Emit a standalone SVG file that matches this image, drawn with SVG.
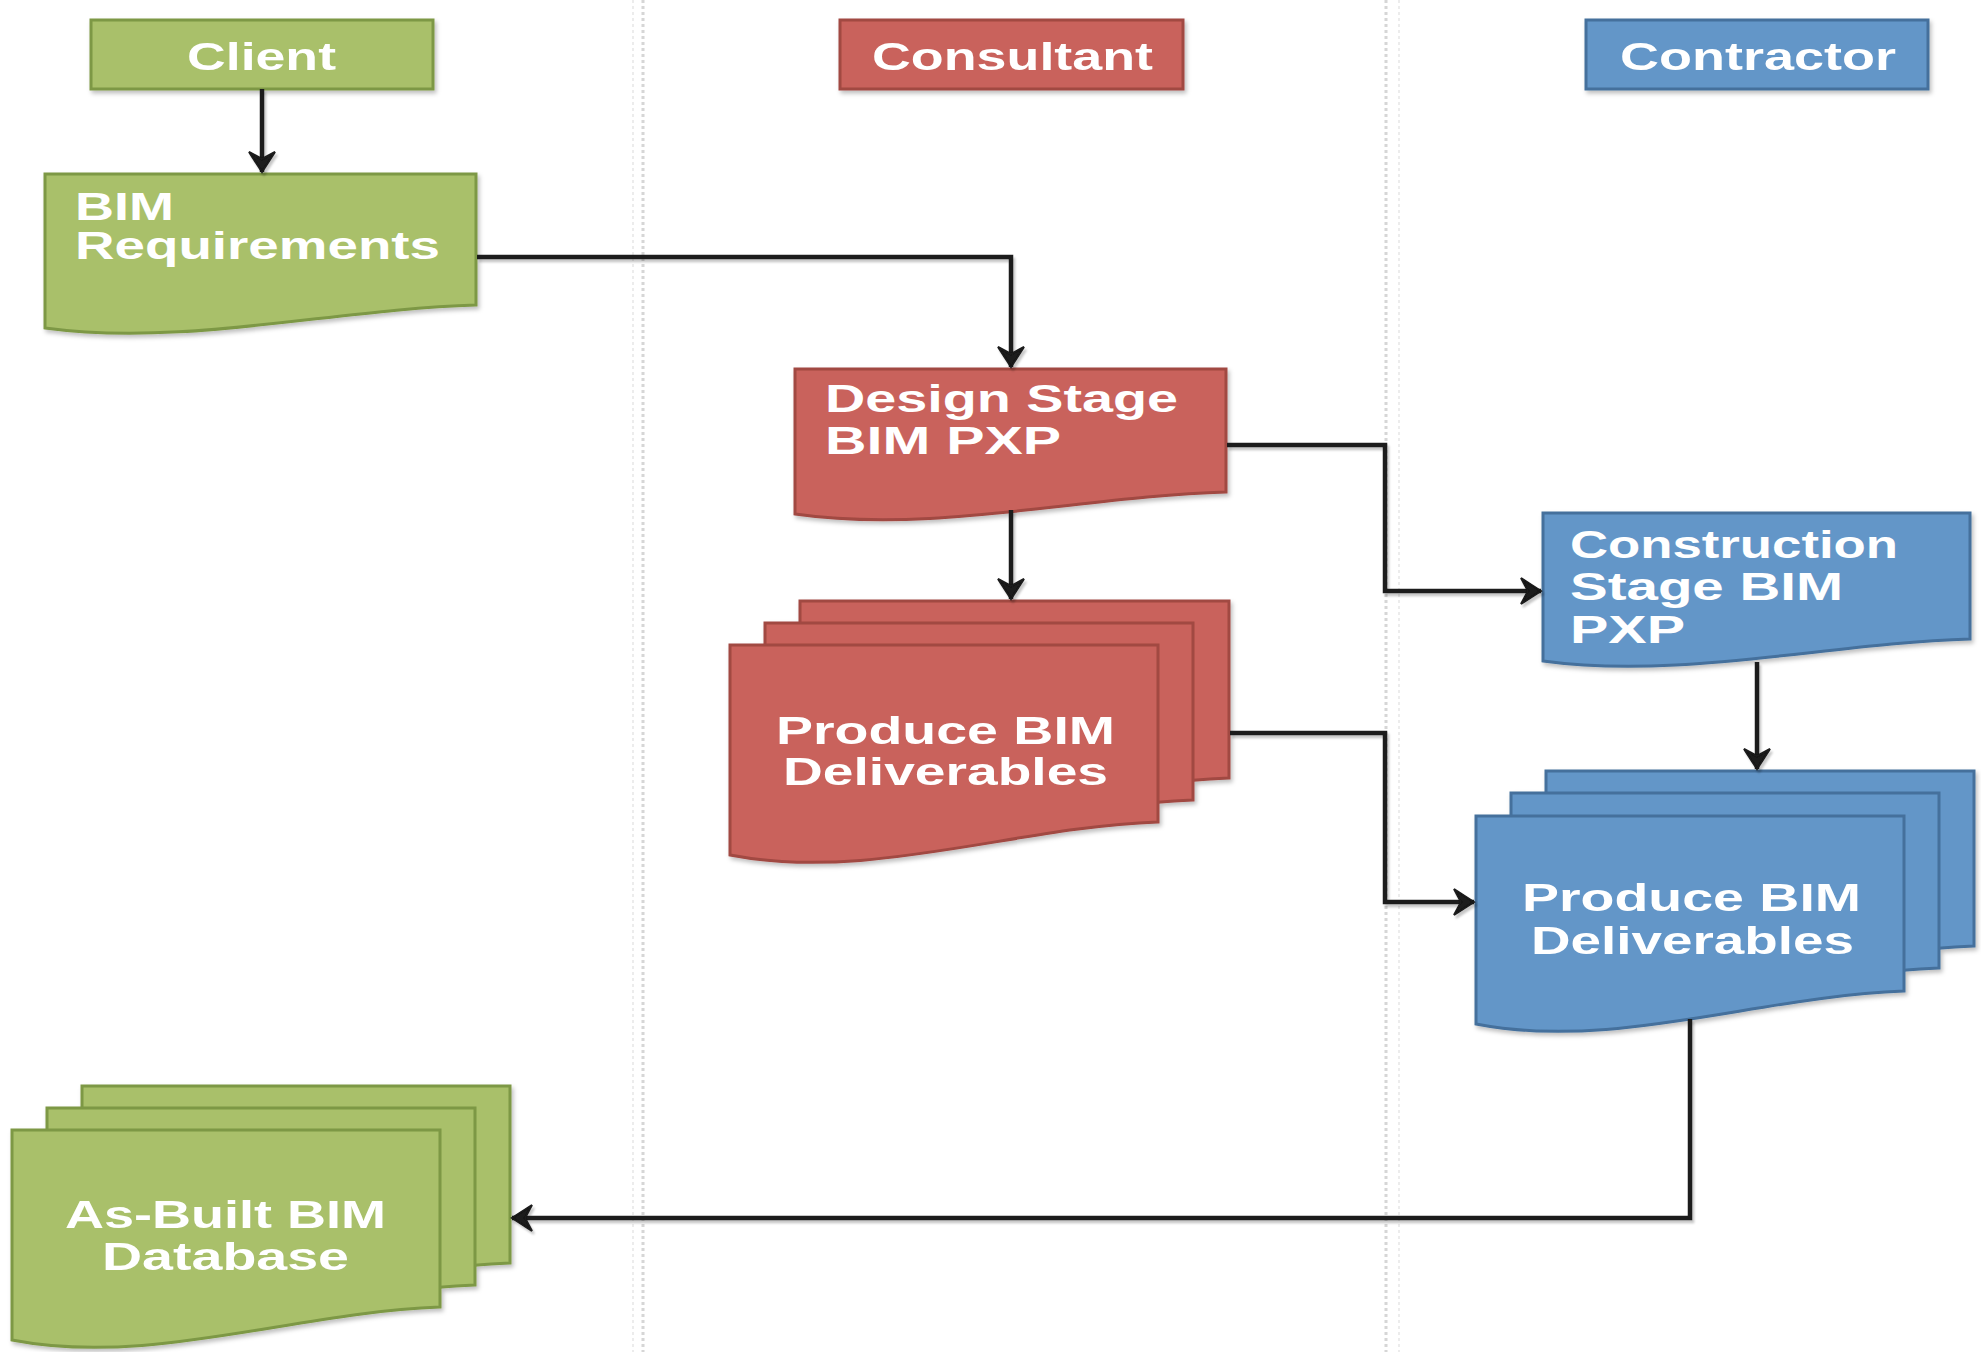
<svg xmlns="http://www.w3.org/2000/svg" width="1981" height="1352" viewBox="0 0 1981 1352">
<defs>
<style>
.g{fill:#a9c06b;stroke:#7d9845;stroke-width:3}
.r{fill:#c9625b;stroke:#a14843;stroke-width:3}
.b{fill:#6396c8;stroke:#44709c;stroke-width:3}
.t{font-family:"Liberation Sans",Arial,sans-serif;font-weight:bold;font-size:38px;fill:#ffffff}
.lane{stroke:#d6d6d6;stroke-width:3;stroke-dasharray:3 3;fill:none}
.lane2{stroke:#ececec;stroke-width:2;stroke-dasharray:3 3;fill:none}
.c{fill:none;stroke:#1a1a1a;stroke-width:4.5;stroke-linejoin:miter}
</style>
<filter id="sh" x="-10%" y="-10%" width="120%" height="130%">
<feDropShadow dx="2" dy="3" stdDeviation="2" flood-color="#000" flood-opacity="0.25"/>
</filter>
<filter id="lsh" x="-20%" y="-20%" width="140%" height="140%">
<feDropShadow dx="2" dy="3" stdDeviation="1.2" flood-color="#000" flood-opacity="0.22"/>
</filter>
<marker id="ah" markerUnits="userSpaceOnUse" viewBox="-22 -16 24 32" markerWidth="24" markerHeight="32" refX="0" refY="0" orient="auto">
<path d="M0,0 L-20,-13 L-13,0 L-20,13 Z" fill="#1a1a1a" stroke="#1a1a1a" stroke-width="2" stroke-linejoin="miter"/>
</marker>
</defs>
<rect width="1981" height="1352" fill="#ffffff"/>
<g id="lanes">
<line class="lane2" x1="633" y1="0" x2="633" y2="1352"/>
<line class="lane" x1="643" y1="0" x2="643" y2="1352"/>
<line class="lane" x1="1386" y1="0" x2="1386" y2="1352"/>
<line class="lane2" x1="1399" y1="0" x2="1399" y2="1352"/>
</g>
<g id="client-header" filter="url(#sh)">
<rect class="g" x="91" y="20" width="342" height="69"/>
<text class="t" x="187" y="70" textLength="149" lengthAdjust="spacingAndGlyphs">Client</text>
</g>
<g id="consultant-header" filter="url(#sh)">
<rect class="r" x="840" y="20" width="343" height="69"/>
<text class="t" x="872" y="70" textLength="281" lengthAdjust="spacingAndGlyphs">Consultant</text>
</g>
<g id="contractor-header" filter="url(#sh)">
<rect class="b" x="1586" y="20" width="342" height="69"/>
<text class="t" x="1620" y="70" textLength="276" lengthAdjust="spacingAndGlyphs">Contractor</text>
</g>
<g id="bim-requirements">
<path class="g" filter="url(#sh)" d="M45,174 H476 V305 C335,309 184,347 45,328 Z"/>
<text class="t" x="75" y="220" textLength="99" lengthAdjust="spacingAndGlyphs">BIM</text>
<text class="t" x="75" y="259" textLength="365" lengthAdjust="spacingAndGlyphs">Requirements</text>
</g>
<g id="design-stage-pxp">
<path class="r" filter="url(#sh)" d="M795,369 H1226 V492 C1085,496 934,534 795,514 Z"/>
<text class="t" x="825" y="412" textLength="353" lengthAdjust="spacingAndGlyphs">Design Stage</text>
<text class="t" x="825" y="454" textLength="236" lengthAdjust="spacingAndGlyphs">BIM PXP</text>
</g>
<g id="consultant-deliverables" filter="url(#sh)">
<path class="r" d="M800,601 H1229 V778 C1085,783 938,838 800,811 Z"/>
<path class="r" d="M765,623 H1193 V800 C1050,805 903,860 765,833 Z"/>
<path class="r" d="M730,645 H1158 V822 C1015,827 868,882 730,855 Z"/>
<text class="t" x="776" y="744" textLength="339" lengthAdjust="spacingAndGlyphs">Produce BIM</text>
<text class="t" x="783" y="785" textLength="325" lengthAdjust="spacingAndGlyphs">Deliverables</text>
</g>
<g id="construction-stage-pxp">
<path class="b" filter="url(#sh)" d="M1543,513 H1970 V639 C1830,643 1680,680 1543,661 Z"/>
<text class="t" x="1570" y="558" textLength="328" lengthAdjust="spacingAndGlyphs">Construction</text>
<text class="t" x="1570" y="600" textLength="273" lengthAdjust="spacingAndGlyphs">Stage BIM</text>
<text class="t" x="1570" y="643" textLength="115" lengthAdjust="spacingAndGlyphs">PXP</text>
</g>
<g id="contractor-deliverables" filter="url(#sh)">
<path class="b" d="M1546,771 H1974 V946 C1830,951 1684,1006 1546,979 Z"/>
<path class="b" d="M1511,793 H1939 V968 C1795,973 1649,1028 1511,1001 Z"/>
<path class="b" d="M1476,816 H1904 V991 C1760,996 1614,1051 1476,1024 Z"/>
<text class="t" x="1522" y="911" textLength="339" lengthAdjust="spacingAndGlyphs">Produce BIM</text>
<text class="t" x="1531" y="954" textLength="323" lengthAdjust="spacingAndGlyphs">Deliverables</text>
</g>
<g id="as-built-database" filter="url(#sh)">
<path class="g" d="M82,1086 H510 V1263 C366,1268 220,1323 82,1296 Z"/>
<path class="g" d="M47,1108 H475 V1285 C331,1290 185,1345 47,1318 Z"/>
<path class="g" d="M12,1130 H440 V1307 C296,1312 150,1367 12,1340 Z"/>
<text class="t" x="65" y="1228" textLength="321" lengthAdjust="spacingAndGlyphs">As-Built BIM</text>
<text class="t" x="102" y="1270" textLength="247" lengthAdjust="spacingAndGlyphs">Database</text>
</g>
<g id="connectors" filter="url(#lsh)">
<path class="c" d="M262,89 V172" marker-end="url(#ah)"/>
<path class="c" d="M477,257 H1011 V367" marker-end="url(#ah)"/>
<path class="c" d="M1227,445 H1385 V591 H1541" marker-end="url(#ah)"/>
<path class="c" d="M1011,510 V599" marker-end="url(#ah)"/>
<path class="c" d="M1230,733 H1385 V902 H1474" marker-end="url(#ah)"/>
<path class="c" d="M1757,662 V769" marker-end="url(#ah)"/>
<path class="c" d="M1690,1019 V1218 H512" marker-end="url(#ah)"/>
</g>
</svg>
